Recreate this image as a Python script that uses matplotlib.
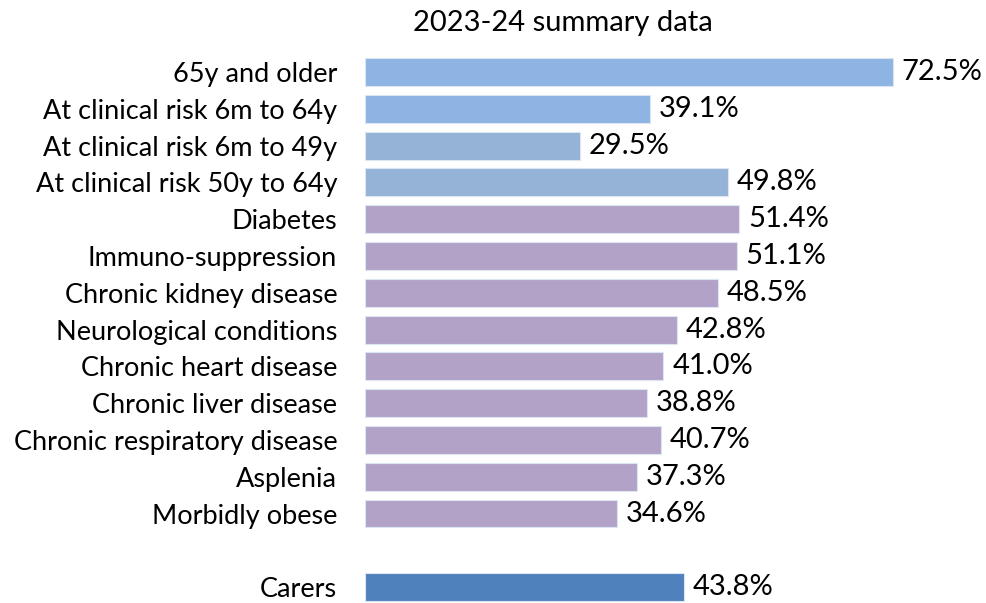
import matplotlib
matplotlib.use("Agg")
import matplotlib.pyplot as plt

categories = ["65y and older", "At clinical risk 6m to 64y", "At clinical risk 6m to 49y",
              "At clinical risk 50y to 64y", "Diabetes", "Immuno-suppression",
              "Chronic kidney disease", "Neurological conditions", "Chronic heart disease",
              "Chronic liver disease", "Chronic respiratory disease", "Asplenia",
              "Morbidly obese", "Carers"]
values = [72.5, 39.1, 29.5, 49.8, 51.4, 51.1, 48.5, 42.8, 41.0, 38.8, 40.7, 37.3, 34.6, 43.8]
colors = ["#8EB4E3", "#8EB4E3", "#95B3D7", "#95B3D7"] + ["#B3A2C7"] * 9 + ["#4F81BD"]
positions = list(range(13)) + [14]

plt.rcParams['font.family'] = ['Lato', 'DejaVu Sans']
W, H = 986, 603
fig = plt.figure(figsize=(W / 100, H / 100), dpi=100)
left = 365 / W
px_per = 7.28
xmax = 80
ax = fig.add_axes([left, 0.002, xmax * px_per / W, 0.909])
ax.barh(positions, values, height=0.76, color=colors, edgecolor="#DCE6F2", linewidth=0.8)
ax.set_xlim(0, xmax)
ax.set_ylim(14.4, -0.5)
ax.set_yticks(positions)
ax.set_yticklabels(categories, fontsize=19.5)
ax.tick_params(axis='y', length=0, pad=20)
ax.set_xticks([])
for s in ax.spines.values():
    s.set_visible(False)
for p, v in zip(positions, values):
    ax.text(v + 1.2, p, f"{v:.1f}%", va="center", ha="left", fontsize=21, clip_on=False)
fig.text(563 / W, 1 - 23 / H, "2023-24 summary data", ha="center", va="center", fontsize=21)
fig.savefig("out.png", dpi=100)
